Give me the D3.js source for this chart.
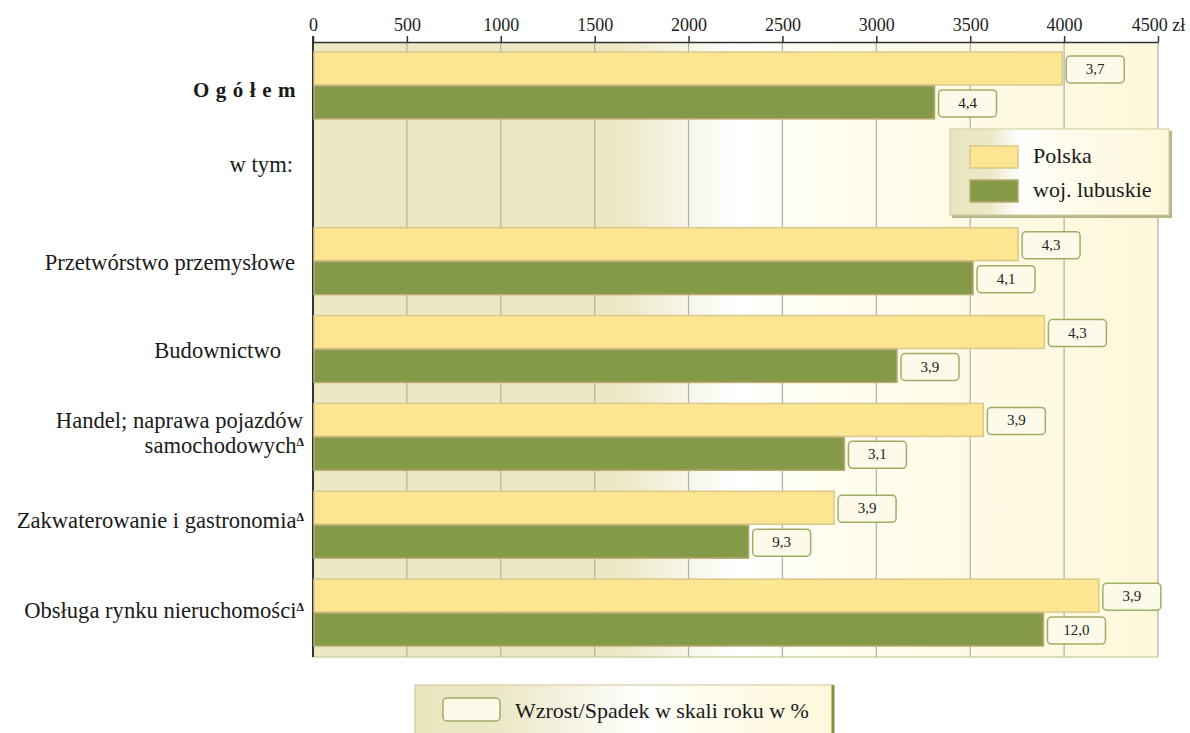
<!DOCTYPE html>
<html>
<head>
<meta charset="utf-8">
<script src="https://cdn.jsdelivr.net/npm/d3@7"></script>
<style>
  body { margin: 0; background: #fff; }
  svg { font-family: "Liberation Serif", "DejaVu Serif", serif; }
</style>
</head>
<body>
<svg id="chart" width="1190" height="733"></svg>
<script>
// ---- data ----
const categories = ["Ogółem", "w tym:", "Przetwórstwo przemysłowe", "Budownictwo",
  "Handel; naprawa pojazdów samochodowych", "Zakwaterowanie i gastronomia", "Obsługa rynku nieruchomości"];
const polska   = [3990, null, 3755, 3895, 3570, 2775, 4185];
const lubuskie = [3310, null, 3515, 3110, 2830, 2320, 3890];
const polskaGrowth   = ["3,7", null, "4,3", "4,3", "3,9", "3,9", "3,9"];
const lubuskieGrowth = ["4,4", null, "4,1", "3,9", "3,1", "9,3", "12,0"];
const ticks = [0, 500, 1000, 1500, 2000, 2500, 3000, 3500, 4000, 4500];

// ---- layout ----
const svg = d3.select("#chart");
const m = { top: 42, left: 313, right: 1158, bottom: 657 };

const x = d3.scaleLinear().domain([0, 4500]).range([m.left, m.right]);
const y = d3.scaleBand().domain(categories).range([m.top, m.bottom]);
const sub = d3.scaleBand().domain(["pl", "lb"]).range([10, y.bandwidth() - 10]);

const defs = svg.append("defs");
function grad(id, stops) {
  const g = defs.append("linearGradient").attr("id", id).attr("x1", 0).attr("x2", 1).attr("y1", 0).attr("y2", 0);
  stops.forEach(s => g.append("stop").attr("offset", s[0]).attr("stop-color", s[1]));
}
grad("bg", [[0, "#ebe8c3"], [0.36, "#ebe8c3"], [0.5, "#ffffff"], [0.6, "#fefdf0"], [1, "#fef7da"]]);
grad("leg", [[0, "#e8e5bf"], [0.18, "#ebe8c6"], [0.32, "#ffffff"], [0.45, "#fefdf0"], [1, "#fef7da"]]);
grad("leg2", [[0, "#e8e5bf"], [0.2, "#ebe8c6"], [0.55, "#ffffff"], [0.65, "#fefdf0"], [1, "#fef7da"]]);

// plot background
svg.append("rect")
  .attr("x", m.left).attr("y", m.top)
  .attr("width", m.right - m.left).attr("height", m.bottom - m.top)
  .attr("fill", "url(#bg)");
svg.append("line")
  .attr("x1", m.left).attr("x2", m.right).attr("y1", m.bottom).attr("y2", m.bottom)
  .attr("stroke", "#d6d2a8").attr("stroke-width", 1.5);

// gridlines
svg.append("g").selectAll("line").data(ticks.slice(1)).enter().append("line")
  .attr("x1", d => x(d)).attr("x2", d => x(d))
  .attr("y1", m.top).attr("y2", m.bottom)
  .attr("stroke", "#b4b4b0").attr("stroke-width", 1.3);

// top axis
const axis = svg.append("g").attr("transform", `translate(0,${m.top})`)
  .call(d3.axisTop(x).tickValues(ticks).tickSize(6).tickSizeOuter(0)
    .tickFormat(d => d === 4500 ? "4500 zł" : d));
axis.select(".domain").attr("stroke", "#333").attr("stroke-width", 1.5);
axis.selectAll(".tick line").attr("stroke", "#333").attr("stroke-width", 1.5);
axis.selectAll(".tick text")
  .attr("font-family", "Liberation Serif, serif").attr("font-size", 18).attr("fill", "#222").attr("dy", "-0.1em");

// left axis line
svg.append("line")
  .attr("x1", m.left).attr("x2", m.left).attr("y1", m.top - 6).attr("y2", m.bottom)
  .attr("stroke", "#333").attr("stroke-width", 2);

// bars
const rows = categories.map((c, i) => ({ c, pl: polska[i], lb: lubuskie[i], gpl: polskaGrowth[i], glb: lubuskieGrowth[i] }))
  .filter(d => d.pl != null);

const g = svg.append("g");
rows.forEach(d => {
  [["pl", d.pl, d.gpl, "#fee592", "#d9c98b"], ["lb", d.lb, d.glb, "#859a48", "#b9aa72"]].forEach(([k, v, gr, fill, stroke]) => {
    const by = y(d.c) + sub(k);
    g.append("rect")
      .attr("x", x(0) + 1).attr("y", by)
      .attr("width", x(v) - x(0) - 1).attr("height", sub.bandwidth() - 1)
      .attr("fill", fill).attr("stroke", stroke).attr("stroke-width", 1.5);
    const bx = x(v) + 4;
    g.append("rect")
      .attr("x", bx).attr("y", by + 4).attr("width", 58).attr("height", 27).attr("rx", 4)
      .attr("fill", "#fefae9").attr("stroke", "#9fae67").attr("stroke-width", 1.5);
    g.append("text")
      .attr("x", bx + 29).attr("y", by + 22).attr("text-anchor", "middle")
      .attr("font-size", 15).attr("fill", "#222").text(gr);
  });
});

// category labels
const lab = svg.append("g").attr("text-anchor", "end").attr("font-size", 22.6).attr("fill", "#1a1a1a");
function sup(t, text) {
  t.append("tspan").text(text);
  t.append("tspan").attr("font-size", 12).attr("font-weight", "bold").attr("dy", "-0.6em").text("Δ");
}
categories.forEach((c, i) => {
  const cy = y(c) + y.bandwidth() / 2;
  if (i === 0) {
    lab.append("text").attr("x", 302).attr("y", cy + 11)
      .attr("font-weight", "bold").attr("letter-spacing", "6.5px").attr("font-size", 21).text("Ogółem");
  } else if (i === 1) {
    lab.append("text").attr("x", 293).attr("y", cy - 2).text(c);
  } else if (i === 3) {
    lab.append("text").attr("x", 281).attr("y", cy + 8).text(c);
  } else if (i === 4) {
    lab.append("text").attr("x", 303).attr("y", cy - 9).text("Handel; naprawa pojazdów");
    sup(lab.append("text").attr("x", 304).attr("y", cy + 16), "samochodowych");
  } else if (i === 5) {
    sup(lab.append("text").attr("x", 304).attr("y", cy + 3), c);
  } else if (i === 6) {
    sup(lab.append("text").attr("x", 304).attr("y", cy + 5), c);
  } else {
    lab.append("text").attr("x", 295).attr("y", cy + 8).text(c);
  }
});

// series legend
const lg = svg.append("g").attr("transform", "translate(950,129)");
lg.append("rect").attr("x", 2).attr("y", 2).attr("width", 220).attr("height", 87).attr("fill", "#b8b58a");
lg.append("rect").attr("width", 219).attr("height", 86).attr("fill", "url(#leg)").attr("stroke", "#cfcb9c");
[["Polska", "#fee592", "#d9c98b"], ["woj. lubuskie", "#859a48", "#b9aa72"]].forEach(([t, f, s], i) => {
  lg.append("rect").attr("x", 20).attr("y", 17 + i * 34).attr("width", 48).attr("height", 22)
    .attr("fill", f).attr("stroke", s).attr("stroke-width", 1.5);
  lg.append("text").attr("x", 83).attr("y", 34 + i * 34).attr("font-size", 22).attr("fill", "#1a1a1a").text(t);
});

// growth legend
const lg2 = svg.append("g").attr("transform", "translate(415,685)");
lg2.append("rect").attr("width", 418).attr("height", 60).attr("fill", "url(#leg2)").attr("stroke", "#cfc394");
lg2.append("line").attr("x1", 418).attr("x2", 418).attr("y1", 0).attr("y2", 60)
  .attr("stroke", "#7f9440").attr("stroke-width", 3);
lg2.append("rect").attr("x", 28).attr("y", 13).attr("width", 57).attr("height", 23).attr("rx", 4)
  .attr("fill", "#fefae9").attr("stroke", "#9fae67").attr("stroke-width", 1.5);
lg2.append("text").attr("x", 100).attr("y", 33).attr("font-size", 22).attr("fill", "#1a1a1a")
  .text("Wzrost/Spadek w skali roku w %");
</script>
</body>
</html>
